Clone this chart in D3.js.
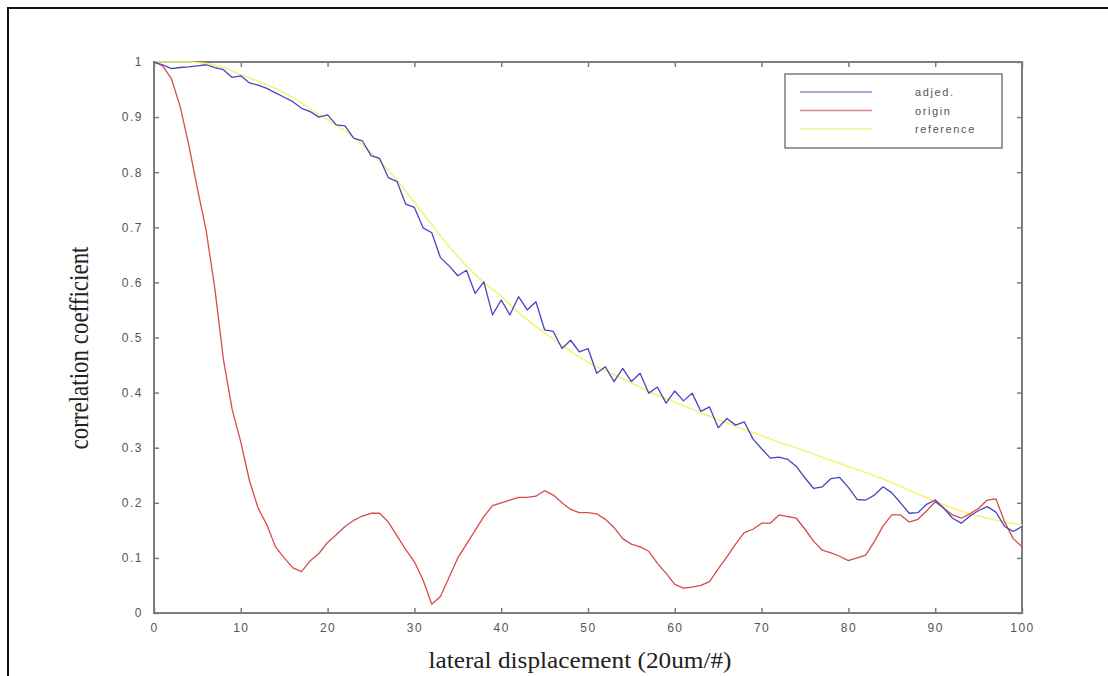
<!DOCTYPE html>
<html>
<head>
<meta charset="utf-8">
<script src="https://cdn.jsdelivr.net/npm/d3@7"></script>
<style>
  html, body { margin: 0; padding: 0; background: #fff; }
  svg { display: block; }
</style>
</head>
<body>
<svg id="chart" width="1108" height="676"></svg>
<script>
// Lateral displacement index, 0..100
const displacement = d3.range(0, 101);

// Correlation coefficient after adjustment
const adjed = [
  1.000, 0.995, 0.988, 0.990, 0.991, 0.993, 0.995, 0.990, 0.986, 0.972,
  0.975, 0.962, 0.958, 0.952, 0.944, 0.936, 0.928, 0.916, 0.910, 0.900,
  0.904, 0.886, 0.884, 0.862, 0.857, 0.830, 0.825, 0.790, 0.783, 0.742,
  0.736, 0.699, 0.690, 0.645, 0.630, 0.612, 0.622, 0.580, 0.601, 0.541,
  0.568, 0.541, 0.574, 0.550, 0.565, 0.514, 0.511, 0.480, 0.495, 0.474,
  0.480, 0.435, 0.447, 0.420, 0.444, 0.420, 0.435, 0.399, 0.410, 0.381,
  0.403, 0.385, 0.399, 0.366, 0.374, 0.336, 0.353, 0.341, 0.347, 0.316,
  0.298, 0.281, 0.283, 0.279, 0.266, 0.245, 0.226, 0.229, 0.244, 0.246,
  0.228, 0.206, 0.205, 0.214, 0.229, 0.218, 0.200, 0.181, 0.182, 0.197,
  0.205, 0.190, 0.172, 0.163, 0.176, 0.186, 0.193, 0.183, 0.157, 0.148,
  0.157
];

// Correlation coefficient of the original signal
const origin = [
  1.000, 0.993, 0.970, 0.920, 0.850, 0.770, 0.695, 0.590, 0.460, 0.370,
  0.310, 0.240, 0.190, 0.160, 0.120, 0.100, 0.082, 0.075, 0.095, 0.108,
  0.128, 0.142, 0.157, 0.168, 0.176, 0.181, 0.181, 0.165, 0.140, 0.115,
  0.093, 0.060, 0.016, 0.030, 0.065, 0.100, 0.125, 0.150, 0.175, 0.195,
  0.200, 0.205, 0.210, 0.210, 0.212, 0.222, 0.214, 0.200, 0.188, 0.182,
  0.182, 0.180, 0.170, 0.155, 0.135, 0.125, 0.120, 0.112, 0.090, 0.072,
  0.052, 0.045, 0.047, 0.050, 0.057, 0.080, 0.102, 0.125, 0.146, 0.152,
  0.163, 0.163, 0.178, 0.175, 0.172, 0.152, 0.130, 0.114, 0.109, 0.103,
  0.095, 0.100, 0.105, 0.130, 0.158, 0.178, 0.178, 0.165, 0.170, 0.185,
  0.202, 0.190, 0.178, 0.172, 0.180, 0.190, 0.205, 0.207, 0.165, 0.135,
  0.120
];

// Reference curve, sampled every 2 steps
const referenceX = d3.range(0, 101, 2);
const reference = [
  1.000, 1.000, 1.000, 0.997, 0.990, 0.977, 0.965, 0.952, 0.935, 0.915,
  0.895, 0.875, 0.850, 0.820, 0.785, 0.745, 0.705, 0.665, 0.630, 0.600,
  0.575, 0.545, 0.520, 0.497, 0.475, 0.455, 0.440, 0.425, 0.410, 0.395,
  0.383, 0.370, 0.357, 0.345, 0.333, 0.322, 0.310, 0.300, 0.288, 0.277,
  0.266, 0.255, 0.243, 0.230, 0.216, 0.203, 0.190, 0.180, 0.172, 0.165,
  0.160
];

const xTicks = [0, 10, 20, 30, 40, 50, 60, 70, 80, 90, 100];
const yTicks = [0, 0.1, 0.2, 0.3, 0.4, 0.5, 0.6, 0.7, 0.8, 0.9, 1];
const legendLabels = ["adjed.", "origin", "reference"];

const svg = d3.select("#chart");
const plot = { left: 154, right: 1022, top: 62, bottom: 613 };

const x = d3.scaleLinear().domain([0, 100]).range([plot.left, plot.right]);
const y = d3.scaleLinear().domain([0, 1]).range([plot.bottom, plot.top]);

// Outer frame (top and left edges)
svg.append("path")
  .attr("d", "M8,676 V8 H1108")
  .attr("fill", "none")
  .attr("stroke", "#111")
  .attr("stroke-width", 2);

const axisColor = "#7c7c7c";
const labelColor = "#555";

function styleAxis(g, showLabels) {
  g.select(".domain").remove();
  g.selectAll(".tick line").attr("stroke", axisColor).attr("stroke-width", 1.5);
  g.selectAll(".tick text")
    .attr("fill", labelColor)
    .style("font-family", "Arial, 'Liberation Sans', sans-serif")
    .style("font-size", "12px")
    .style("letter-spacing", "1.5px");
  if (!showLabels) g.selectAll(".tick text").remove();
}

const fmtY = d => (d === 0 || d === 1) ? String(d) : d3.format(".1f")(d);

svg.append("g")
  .attr("transform", `translate(0,${plot.bottom})`)
  .call(d3.axisBottom(x).tickValues(xTicks).tickSize(-5).tickPadding(10).tickFormat(d3.format("d")))
  .call(g => styleAxis(g, true));

svg.append("g")
  .attr("transform", `translate(0,${plot.top})`)
  .call(d3.axisTop(x).tickValues(xTicks).tickSize(-5))
  .call(g => styleAxis(g, false));

svg.append("g")
  .attr("transform", `translate(${plot.left},0)`)
  .call(d3.axisLeft(y).tickValues(yTicks).tickSize(-5).tickPadding(11).tickFormat(fmtY))
  .call(g => styleAxis(g, true));

svg.append("g")
  .attr("transform", `translate(${plot.right},0)`)
  .call(d3.axisRight(y).tickValues(yTicks).tickSize(-5))
  .call(g => styleAxis(g, false));

// Plot box
svg.append("rect")
  .attr("x", plot.left).attr("y", plot.top)
  .attr("width", plot.right - plot.left).attr("height", plot.bottom - plot.top)
  .attr("fill", "none")
  .attr("stroke", axisColor)
  .attr("stroke-width", 2);

const line = d3.line().x(d => x(d[0])).y(d => y(d[1]));

const series = [
  { name: "reference", xs: referenceX, ys: reference, color: "#f6f27a", width: 1.6, smooth: true },
  { name: "origin", xs: displacement, ys: origin, color: "#d94a4a", width: 1.3 },
  { name: "adjed.", xs: displacement, ys: adjed, color: "#4646c4", width: 1.3 }
];

series.forEach(s => {
  const gen = s.smooth ? line.curve(d3.curveMonotoneX) : d3.line().x(d => x(d[0])).y(d => y(d[1]));
  svg.append("path")
    .datum(s.xs.map((v, i) => [v, s.ys[i]]))
    .attr("fill", "none")
    .attr("stroke", s.color)
    .attr("stroke-width", s.width)
    .attr("stroke-linejoin", "round")
    .attr("d", gen);
});

// Legend
const legendColors = { "adjed.": "#8a8ad8", "origin": "#d88a8a", "reference": "#f7f39a" };
const legend = svg.append("g").attr("transform", "translate(785,74)");
legend.append("rect")
  .attr("width", 217).attr("height", 74)
  .attr("fill", "#fff")
  .attr("stroke", axisColor)
  .attr("stroke-width", 1.5);

legendLabels.forEach((name, i) => {
  const ly = 18 + i * 18.5;
  legend.append("line")
    .attr("x1", 15).attr("x2", 87)
    .attr("y1", ly).attr("y2", ly)
    .attr("stroke", legendColors[name])
    .attr("stroke-width", 1.5);
  legend.append("text")
    .attr("x", 130).attr("y", ly + 4)
    .attr("fill", labelColor)
    .style("font-family", "Arial, 'Liberation Sans', sans-serif")
    .style("font-size", "11px")
    .style("letter-spacing", "1.6px")
    .text(name);
});

// Axis titles
svg.append("text")
  .attr("x", 580).attr("y", 668)
  .attr("text-anchor", "middle")
  .attr("fill", "#222")
  .attr("textLength", 303)
  .attr("lengthAdjust", "spacingAndGlyphs")
  .style("font-family", "'Liberation Serif', 'Times New Roman', serif")
  .style("font-size", "23px")
  .text("lateral displacement (20um/#)");

svg.append("text")
  .attr("transform", "translate(88,348) rotate(-90)")
  .attr("text-anchor", "middle")
  .attr("fill", "#222")
  .attr("textLength", 203)
  .attr("lengthAdjust", "spacingAndGlyphs")
  .style("font-family", "'Liberation Serif', 'Times New Roman', serif")
  .style("font-size", "27px")
  .text("correlation coefficient");
</script>
</body>
</html>
